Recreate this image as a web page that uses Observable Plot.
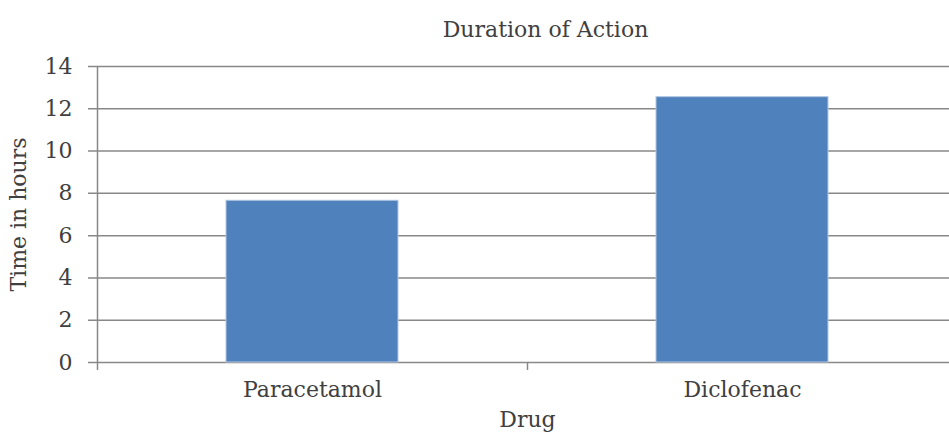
<!DOCTYPE html>
<html><head><meta charset="utf-8">
<script src="https://cdn.jsdelivr.net/npm/d3@7"></script>
<script src="https://cdn.jsdelivr.net/npm/@observablehq/plot@0.6"></script>
<style>
body{margin:0;background:#fff}
</style>
</head><body><div id="chart"></div>
<script>
const drugs = ["Paracetamol", "Diclofenac"];
const hours = [7.65, 12.55];
const yTicks = [0, 2, 4, 6, 8, 10, 12, 14];
const title = "Duration of Action";
const xLabel = "Drug";
const yLabel = "Time in hours";

const data = drugs.map((d, i) => ({drug: d, hours: hours[i]}));
const W = 949, H = 432, mLeft = 97, mRightEdge = 957, mTop = 66, mBottomEdge = 362;
const half = (mRightEdge - mLeft) / drugs.length / 2;
const grid = "#888888";
const font = "'DejaVu Serif', serif";

const chart = Plot.plot({
  width: W, height: H,
  marginLeft: mLeft, marginRight: W - mRightEdge, marginTop: mTop, marginBottom: H - mBottomEdge,
  style: {fontFamily: font, fontSize: "22px", color: "#404040", background: "#fff"},
  x: {domain: drugs, paddingInner: 0.6, paddingOuter: 0.3, label: xLabel, labelArrow: "none", labelAnchor: "center", labelOffset: 64, tickSize: 0, tickPadding: 19},
  y: {domain: [0, 14], ticks: yTicks, label: yLabel, labelArrow: "none", labelAnchor: "center", labelOffset: 87, tickSize: 0, tickPadding: 25},
  marks: [
    Plot.ruleY(yTicks, {stroke: grid, strokeWidth: 1.5, insetLeft: -9}),
    Plot.ruleX(drugs, {x: d => d, dx: -half, y1: 0, y2: 0, insetBottom: -8, stroke: grid, strokeWidth: 1.5}),
    Plot.ruleX([drugs[0]], {x: d => d, dx: -half, y1: 0, y2: 14, stroke: grid, strokeWidth: 1.5}),
    Plot.barY(data, {x: "drug", y: "hours", fill: "#4F81BD", stroke: "#b4c8e2", strokeWidth: 1}),
    Plot.text([title], {frameAnchor: "top", dy: -45, dx: 18, text: d => d, fontSize: 22, fill: "#404040"})
  ]
});
document.getElementById("chart").append(chart);
</script>
</body></html>
